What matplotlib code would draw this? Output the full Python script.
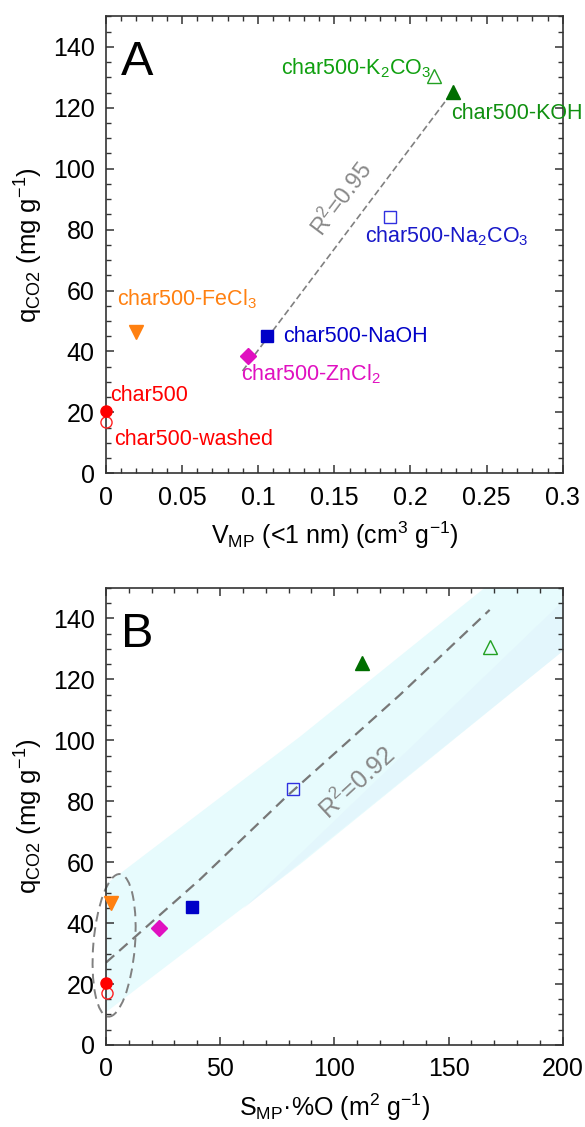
import numpy as np
import matplotlib
matplotlib.use('Agg')
import matplotlib.pyplot as plt
from matplotlib.patches import Ellipse
from matplotlib.ticker import MultipleLocator

plt.rcParams['font.family'] = ['Liberation Sans', 'DejaVu Sans']
plt.rcParams['mathtext.fontset'] = 'custom'
plt.rcParams['mathtext.rm'] = 'Liberation Sans'
plt.rcParams['mathtext.it'] = 'Liberation Sans:italic'

# samples: char500, washed, FeCl3, ZnCl2, NaOH, Na2CO3, KOH, K2CO3
nomes = ['char500', 'char500-washed', 'char500-FeCl$_3$', 'char500-ZnCl$_2$',
         'char500-NaOH', 'char500-Na$_2$CO$_3$', 'char500-KOH', 'char500-K$_2$CO$_3$']
q_co2 = [20.3, 17.0, 46.5, 38.5, 45.2, 84.0, 125.3, 130.5]
v_mp = [0.0, 0.0, 0.0197, 0.0932, 0.106, 0.1864, 0.228, 0.2154]
smp_o = [0.0, 0.5, 2.2, 23.3, 37.5, 82.0, 112.0, 168.0]

marcadores = ['o', 'o', 'v', 'D', 's', 's', '^', '^']
cores = ['#FF0000', '#FF2020', '#FF8010', '#E010C0', '#0000C8', '#3030E0', '#006E00', '#22A022']
cheio = [True, False, True, True, True, False, True, False]
tamanhos = [8, 8, 10, 8.5, 9, 9, 9.5, 9.5]
cores_txt = ['#FF0000', '#FF0000', '#FF8010', '#E010C0', '#0000C8', '#1818C8', '#109010', '#10A010']

# label anchors in panel A (left, center)
lbl_x = [0.003, 0.0053, 0.0074, 0.089, 0.1164, 0.170, 0.2269, 0.1147]
lbl_y = [25.4, 11.2, 57.0, 32.5, 45.0, 78.0, 118.0, 133.0]

# fit lines
fitA_x = [0.0897, 0.228]
fitA_y = [33.6, 125.5]
fitB_x = [0.0, 41.0, 79.0, 128.7, 168.0]
fitB_y = [27.0, 54.2, 81.5, 114.9, 142.8]

# band in panel B
banda_x = [0.0, 85.0, 200.0]
banda_sup = [53.0, 101.5, 171.0]
banda_inf = [11.0, 59.6, 129.6]
banda2_x = [60.0, 200.0]
banda2_sup = [45.0, 146.0]
banda2_inf = [45.0, 129.6]

fig = plt.figure(figsize=(5.85, 11.27), dpi=100)
ax1 = fig.add_axes([0.181, 0.580, 0.781, 0.4055])
ax2 = fig.add_axes([0.181, 0.0728, 0.781, 0.4055])


def estilo(ax):
    for s in ax.spines.values():
        s.set_color('#333333')
        s.set_linewidth(1.2)
    ax.tick_params(which='both', direction='in', top=True, right=True,
                   colors='#333333', labelcolor='black', labelsize=18)
    ax.tick_params(which='major', length=6, width=1.1)
    ax.tick_params(which='minor', length=3.5, width=1.0)
    ax.tick_params(axis='x', pad=9)
    ax.tick_params(axis='y', pad=8)
    ax.set_ylim(0, 150)
    ax.yaxis.set_major_locator(MultipleLocator(20))
    ax.yaxis.set_minor_locator(MultipleLocator(5))
    ax.set_ylabel(r'q$_\mathrm{CO2}$ (mg g$^\mathrm{-1}$)', fontsize=18.5, labelpad=6)


def pontos(ax, xs):
    for i in range(len(q_co2)):
        ax.plot(xs[i], q_co2[i], marker=marcadores[i], ms=tamanhos[i], ls='none',
                color=cores[i], mfc=cores[i] if cheio[i] else 'none',
                mew=1.0, clip_on=False, zorder=3 if cheio[i] else 2.8)


# ---- painel A
estilo(ax1)
ax1.set_xlim(0, 0.3)
ax1.xaxis.set_major_locator(MultipleLocator(0.05))
ax1.xaxis.set_minor_locator(MultipleLocator(0.01))
ax1.set_xticks([0, 0.05, 0.1, 0.15, 0.2, 0.25, 0.3])
ax1.set_xticklabels(['0', '0.05', '0.1', '0.15', '0.2', '0.25', '0.3'])
ax1.set_xlabel(r'V$_\mathrm{MP}$ (<1 nm) (cm$^\mathrm{3}$ g$^\mathrm{-1}$)', fontsize=18, labelpad=7)
ax1.plot(fitA_x, fitA_y, color='#808080', lw=1.2, dashes=(4, 2), zorder=2)
pontos(ax1, v_mp)
for i in range(len(nomes)):
    ax1.text(lbl_x[i], lbl_y[i], nomes[i], color=cores_txt[i], fontsize=15.5,
             ha='left', va='center')
ax1.text(0.155, 90, r'R$^\mathrm{2}$=0.95', color='#888888', fontsize=16.5,
         rotation=53, ha='center', va='center')
ax1.text(0.033, 0.871, 'A', transform=ax1.transAxes, fontsize=35, va='baseline')

# ---- painel B
estilo(ax2)
ax2.set_xlim(0, 200)
ax2.xaxis.set_major_locator(MultipleLocator(50))
ax2.xaxis.set_minor_locator(MultipleLocator(10))
ax2.set_xlabel('S$_\\mathrm{MP}$·%O (m$^\\mathrm{2}$ g$^\\mathrm{-1}$)', fontsize=18, labelpad=7)
ax2.fill_between(banda_x, banda_inf, banda_sup, color='#E7FBFD', lw=0, zorder=1)
ax2.fill_between(banda2_x, banda2_inf, banda2_sup, color='#E3F6FC', lw=0, zorder=1.1)
ax2.plot(fitB_x, fitB_y, color='#777777', lw=1.6, dashes=(5, 3), zorder=2)
pontos(ax2, smp_o)
ax2.text(110, 86, r'R$^\mathrm{2}$=0.92', color='#888888', fontsize=18,
         rotation=42.5, ha='center', va='center')
ax2.text(0.033, 0.871, 'B', transform=ax2.transAxes, fontsize=35, va='baseline')

# ellipse around low-porosity samples (axes box is square, so angle is kept)
ell_cx, ell_cy = 3.6, 32.7
ex = (ell_cx - 0) / 200
ey = (ell_cy - 0) / 150
ax2.add_patch(Ellipse((ex, ey), 0.091, 0.313, angle=-4.7, transform=ax2.transAxes,
                      fill=False, ec='#808080', lw=1.4, ls=(0, (5, 3)), clip_on=False,
                      zorder=2.5))

fig.savefig('out.png', dpi=100)
